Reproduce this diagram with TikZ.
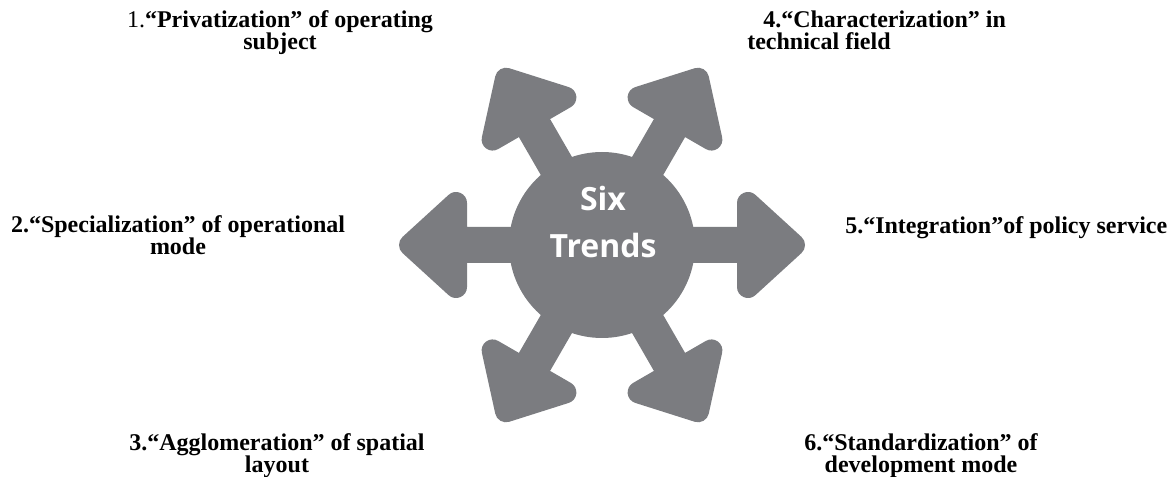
\documentclass[tikz,border=0pt]{standalone}
\usepackage{fontspec}
\setmainfont{Liberation Serif}
\newfontfamily\trendfont{Open Sans}
\usepackage{tikz}
\definecolor{trendgrey}{RGB}{123,124,128}
\tikzstyle{hub}=[circle,fill=trendgrey,minimum size=139.5pt,inner sep=0pt]
\tikzstyle{hubtext}=[text=white,font=\trendfont\bfseries\fontsize{24}{35}\selectfont,align=center,inner sep=0pt]
\tikzstyle{trendarrow}=[fill=trendgrey,draw=trendgrey,line width=16.5pt,line join=round]
\tikzstyle{trend}=[font=\bfseries\fontsize{18}{16.5}\selectfont,inner sep=0pt,anchor=base,align=center]

\begin{document}
\begin{tikzpicture}[x=0.75pt,y=-0.75pt]
\useasboundingbox (0,0) rectangle (1171,477);
\coordinate (c) at (602,245);
\foreach \a in {0,60,...,300}
  \filldraw[trendarrow,shift={(c)},rotate=\a] (0,-7) -- (146,-7) -- (146,-42) -- (192,0) -- (146,42) -- (146,7) -- (0,7) -- cycle;
\node[hub] (hub) at (c) {};
\node[hubtext] (title) at (603,222) {Six\\Trends};

% base of a two-line label is the second line
\node[trend] (t1) at (280,50) {{\mdseries 1.}“Privatization” of operating\\subject};
\node[trend] (t2) at (178,255) {2.“Specialization” of operational\\mode};
\node[trend] (t3) at (277,472) {3.“Agglomeration” of spatial\\layout};
\node[trend,align=left,anchor=base west] (t4) at (747,50) {\hspace*{12pt}4.“Characterization” in\\technical field};
\node[trend,anchor=base west] (t5) at (845,234) {5.“Integration”of policy service};
\node[trend] (t6) at (921,472) {6.“Standardization” of\\development mode};
\end{tikzpicture}
\end{document}
